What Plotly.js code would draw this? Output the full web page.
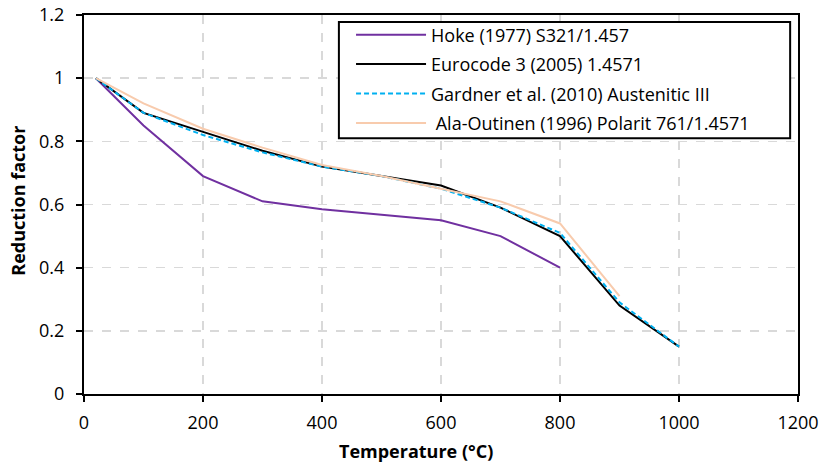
<!DOCTYPE html>
<html>
<head>
<meta charset="utf-8">
<script src="https://cdn.plot.ly/plotly-3.0.1.min.js"></script>
<style>html,body{margin:0;padding:0;background:#fff;}#chart{width:822px;height:462px;}</style>
</head>
<body>
<div id="chart"></div>
<script>
const temperature = [20, 100, 200, 300, 400, 500, 600, 700, 800, 900, 1000];
const hokeTemp = [20, 100, 200, 300, 400, 500, 600, 700, 800];
const hoke = [1.0, 0.85, 0.69, 0.61, 0.585, 0.567, 0.55, 0.50, 0.40];
const eurocode = [1.0, 0.89, 0.83, 0.77, 0.72, 0.69, 0.66, 0.59, 0.50, 0.28, 0.15];
const gardner = [1.0, 0.89, 0.82, 0.765, 0.72, 0.69, 0.65, 0.59, 0.51, 0.29, 0.15];
const alaTemp = [20, 100, 200, 300, 400, 500, 600, 700, 800, 900];
const ala = [1.0, 0.92, 0.84, 0.78, 0.725, 0.69, 0.65, 0.61, 0.54, 0.31];
const names = ["Hoke (1977) S321/1.457", "Eurocode 3 (2005) 1.4571", "Gardner et al. (2010) Austenitic III", " Ala-Outinen (1996) Polarit 761/1.4571"];
const xTitle = "Temperature (°C)";
const yTitle = "Reduction factor";

const FONT = "Open Sans, sans-serif";
const traces = [
  {x: hokeTemp, y: hoke, name: names[0], legendgroup: "a", mode: "lines", line: {color: "#7030A0", width: 2}},
  {x: temperature, y: eurocode, name: names[1], legendgroup: "b", mode: "lines", line: {color: "#000000", width: 2}},
  {x: temperature, y: gardner, name: names[2], legendgroup: "c", mode: "lines", line: {color: "#00B0F0", width: 2, dash: "5px,3px"}},
  {x: alaTemp, y: ala, name: names[3], legendgroup: "d", mode: "lines", line: {color: "#F8CBAD", width: 2}}
];
const gridStyle = {showgrid: true, gridcolor: "#D9D9D9", griddash: "dash", gridwidth: 1.5};
const layout = {
  width: 822, height: 462,
  margin: {l: 84, r: 24, t: 15, b: 68},
  paper_bgcolor: "#fff", plot_bgcolor: "#fff",
  font: {family: FONT, size: 18, color: "#000"},
  showlegend: true,
  legend: {x: 0.374, y: 0.996, xanchor: "left", yanchor: "top", bgcolor: "rgba(0,0,0,0)", borderwidth: 0,
    font: {family: FONT, size: 18, color: "#000"}, itemwidth: 70, tracegroupgap: 3},
  shapes: [{type: "rect", xref: "paper", yref: "paper", x0: 0.357, x1: 0.989, y0: 0.675, y1: 0.9815,
    fillcolor: "#fff", line: {color: "#000", width: 2}, layer: "above"}],
  annotations: [
    {text: "<b>" + xTitle + "</b>", xref: "paper", yref: "paper", x: 0.465, y: -0.150, xanchor: "center", yanchor: "middle", showarrow: false, font: {family: FONT, size: 18}},
    {text: "<b>" + yTitle + "</b>", xref: "paper", yref: "paper", x: -0.0924, y: 0.51, xanchor: "center", yanchor: "middle", textangle: -90, showarrow: false, font: {family: FONT, size: 18}}
  ],
  xaxis: Object.assign({range: [0, 1200], dtick: 200, tick0: 0, showline: true, linecolor: "#000", linewidth: 2, mirror: true, ticks: "outside", ticklen: 6, tickcolor: "#000", tickwidth: 2, zeroline: false,
    tickfont: {family: FONT, size: 18}, ticklabelstandoff: 5}, gridStyle),
  yaxis: Object.assign({range: [0, 1.2], dtick: 0.2, tick0: 0, showline: true, linecolor: "#000", linewidth: 2, mirror: true, ticks: "outside", ticklen: 6, tickcolor: "#000", tickwidth: 2, zeroline: false,
    tickfont: {family: FONT, size: 18}, ticklabelstandoff: 8}, gridStyle)
};
Plotly.newPlot("chart", traces, layout, {staticPlot: true, displayModeBar: false});
</script>
</body>
</html>
